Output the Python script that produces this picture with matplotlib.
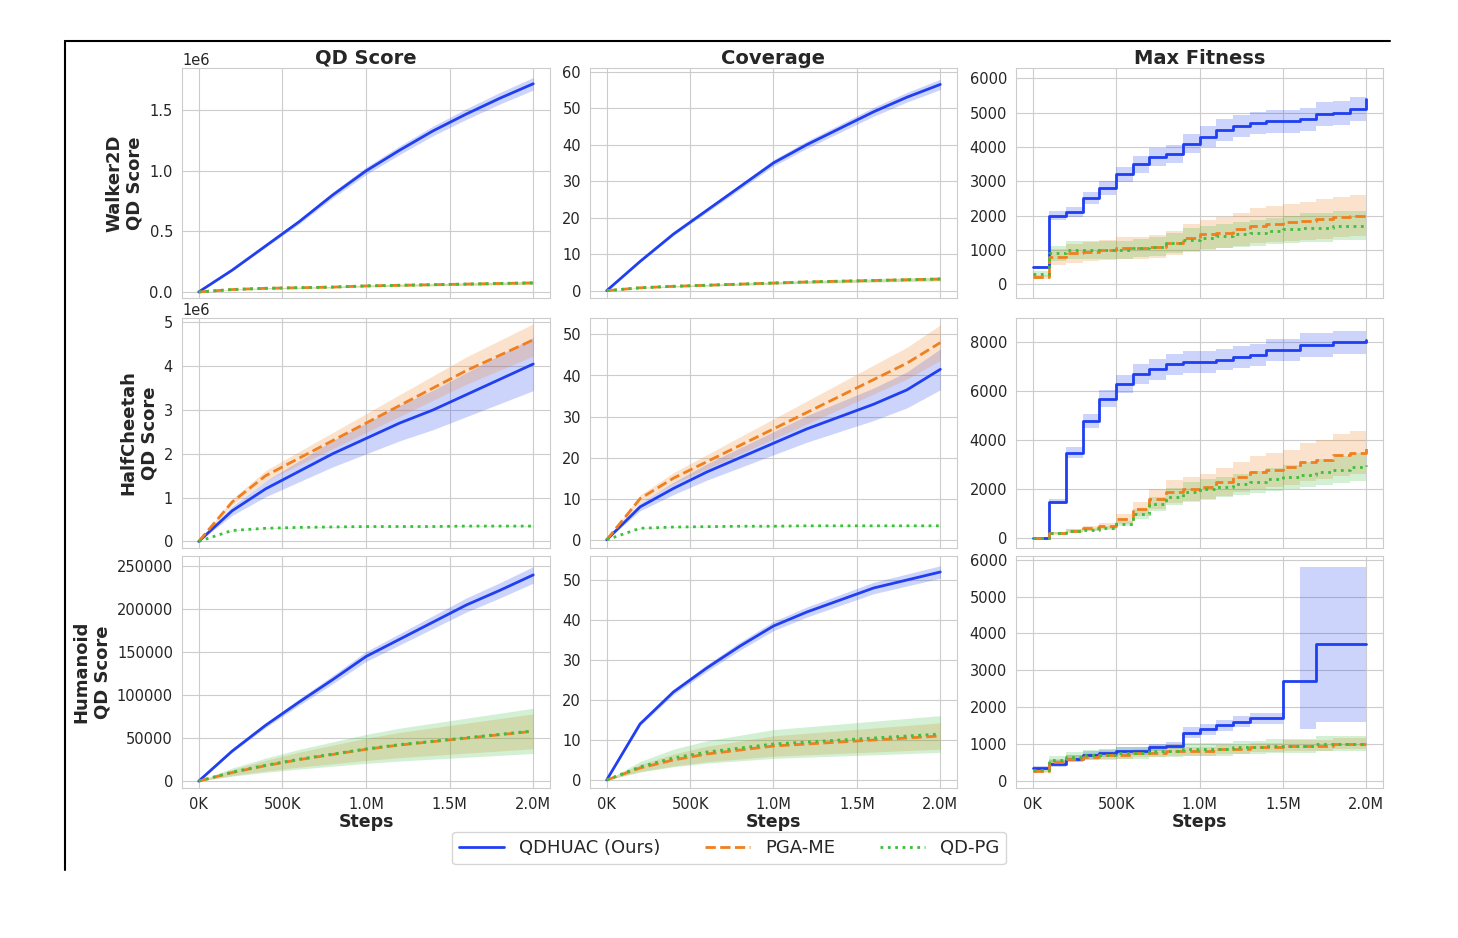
import matplotlib
matplotlib.use("Agg")
import matplotlib.pyplot as plt
import seaborn as sns
import numpy as np
from matplotlib.ticker import FuncFormatter
from matplotlib.lines import Line2D

sns.set_style("whitegrid")
plt.rcParams['font.family'] = ['DejaVu Sans']

x11 = np.linspace(0, 2e6, 11)
x21 = np.linspace(0, 2e6, 21)

w_qd = {"QDHUAC": [0,0.18,0.38,0.58,0.8,1.0,1.17,1.33,1.47,1.6,1.72],
        "PGA": [0,0.02,0.03,0.035,0.04,0.05,0.055,0.06,0.065,0.07,0.075],
        "QDPG": [0,0.02,0.03,0.035,0.04,0.05,0.055,0.06,0.065,0.07,0.075]}
w_cov = {"QDHUAC": [0,8,15.5,22,28.5,35,40,44.5,49,53,56.5],
         "PGA": [0,0.8,1.2,1.5,1.8,2.1,2.4,2.6,2.8,3,3.2],
         "QDPG": [0,0.8,1.2,1.5,1.8,2.1,2.4,2.6,2.8,3,3.2]}
w_max = {"QDHUAC": [500,2000,2100,2500,2800,3200,3500,3700,3800,4100,4300,4500,4600,4700,4750,4750,4800,4950,5000,5100,5400],
         "PGA": [200,800,900,950,1000,1050,1050,1100,1200,1350,1450,1500,1600,1700,1750,1800,1850,1900,1950,2000,2000],
         "QDPG": [300,900,1000,1000,1000,1000,1050,1100,1200,1300,1350,1400,1450,1500,1550,1600,1650,1650,1700,1700,1700]}
h_qd = {"QDHUAC": [0,0.7,1.2,1.6,2.0,2.35,2.7,3.0,3.35,3.7,4.05],
        "PGA": [0,0.9,1.5,1.9,2.3,2.7,3.1,3.5,3.9,4.25,4.6],
        "QDPG": [0,0.25,0.3,0.32,0.33,0.34,0.34,0.34,0.35,0.35,0.35]}
h_cov = {"QDHUAC": [0,8,12.5,16.5,20,23.5,27,30,33,36.5,41.5],
         "PGA": [0,10,15,19,23,27,31,35,39,43,48],
         "QDPG": [0,2.8,3.1,3.2,3.3,3.3,3.4,3.4,3.4,3.4,3.4]}
h_max = {"QDHUAC": [0,1500,3500,4800,5700,6300,6700,6900,7100,7200,7200,7300,7400,7500,7700,7700,7900,7900,8000,8000,8100],
         "PGA": [0,200,300,400,500,800,1200,1600,1900,2000,2100,2300,2500,2700,2800,2900,3100,3200,3400,3500,3700],
         "QDPG": [0,200,300,350,400,600,1000,1400,1700,1900,2000,2100,2200,2300,2400,2500,2600,2700,2800,2900,3000]}
u_qd = {"QDHUAC": [0,35000,65000,92000,118000,145000,165000,185000,205000,222000,240000],
        "PGA": [0,10000,18000,25000,31000,37000,42000,46000,50000,54000,58000],
        "QDPG": [0,10500,18500,25500,31500,37500,42500,46500,50500,54500,58500]}
u_cov = {"QDHUAC": [0,14,22,28,33.5,38.5,42,45,48,50,52],
         "PGA": [0,3,5,6.5,7.5,8.5,9,9.5,10,10.5,11],
         "QDPG": [0,3.3,5.5,7,8,9,9.5,10,10.5,11,11.5]}
u_max = {"QDHUAC": [350,450,600,700,750,800,800,900,950,1300,1400,1500,1600,1700,1700,2700,2700,3700,3700,3700,3700],
         "PGA": [250,500,600,650,700,700,750,750,800,800,800,850,850,900,900,950,950,950,1000,1000,1000],
         "QDPG": [300,550,650,700,700,750,750,800,800,850,850,850,900,900,950,950,950,1000,1000,1000,1000]}
u_max_hi = [400,550,700,800,850,900,900,1000,1050,1450,1550,1650,1750,1850,1850,2700,5800,5800,5800,5800,5800]
u_max_lo = [300,380,500,600,650,700,700,800,850,1150,1250,1350,1450,1550,1550,2700,1400,1600,1600,1600,1600]

colors = {"QDHUAC": "#1f3ff0", "PGA": "#f07f1f", "QDPG": "#3cbf3c"}
styles = {"QDHUAC": "-", "PGA": "--", "QDPG": ":"}
labels = {"QDHUAC": "QDHUAC (Ours)", "PGA": "PGA-ME", "QDPG": "QD-PG"}

fig = plt.figure(figsize=(14.58, 9.38), dpi=100)
W, H = 1458, 938
cols = [(182, 550), (590, 957), (1016, 1383)]
rows = [(68, 298), (318, 548), (556, 788)]
axes = [[None]*3 for _ in range(3)]
for i, (t, b) in enumerate(rows):
    for j, (l, r) in enumerate(cols):
        axes[i][j] = fig.add_axes([l/W, 1-b/H, (r-l)/W, (b-t)/H])

data = [[w_qd, w_cov, w_max], [h_qd, h_cov, h_max], [u_qd, u_cov, u_max]]
rel = [[{"QDHUAC":0.03,"PGA":0.15,"QDPG":0.15},{"QDHUAC":0.025,"PGA":0.15,"QDPG":0.15},{"QDHUAC":0.07,"PGA":0.3,"QDPG":0.25}],
       [{"QDHUAC":0.15,"PGA":0.08,"QDPG":0.03},{"QDHUAC":0.12,"PGA":0.09,"QDPG":0.03},{"QDHUAC":0.06,"PGA":0.25,"QDPG":0.2}],
       [{"QDHUAC":0.04,"PGA":0.35,"QDPG":0.45},{"QDHUAC":0.03,"PGA":0.3,"QDPG":0.4},{"QDHUAC":0.1,"PGA":0.15,"QDPG":0.2}]]
scale = [[1e6, 1, 1], [1e6, 1, 1], [1, 1, 1]]

for i in range(3):
    for j in range(3):
        ax = axes[i][j]
        for k in ["QDHUAC", "PGA", "QDPG"]:
            v = np.array(data[i][j][k], float) * scale[i][j]
            xs = x21 if j == 2 else x11
            ds = "steps-post" if j == 2 else "default"
            step = "post" if j == 2 else None
            if i == 2 and j == 2 and k == "QDHUAC":
                lo, hi = np.array(u_max_lo), np.array(u_max_hi)
            else:
                d = v * rel[i][j][k]
                lo, hi = v - d, v + d
            ax.fill_between(xs, lo, hi, color=colors[k], alpha=0.22, lw=0, step=step)
            ax.plot(xs, v, color=colors[k], ls=styles[k], lw=2, drawstyle=ds)
        ax.set_xlim(-1e5, 2.1e6)
        ax.set_xticks([0, 5e5, 1e6, 1.5e6, 2e6])
        if i == 2:
            ax.set_xticklabels(["0K", "500K", "1.0M", "1.5M", "2.0M"])
            ax.set_xlabel("Steps", fontsize=12.5, fontweight="bold", labelpad=1)
        else:
            ax.set_xticklabels([])
        ax.tick_params(labelsize=10.5, pad=3)
        for s in ax.spines.values():
            s.set_color("#cccccc")

axes[0][0].set_ylim(-0.05e6, 1.85e6); axes[0][0].set_yticks([0, 0.5e6, 1e6, 1.5e6])
axes[0][1].set_ylim(-2, 61); axes[0][1].set_yticks(range(0, 61, 10))
axes[0][2].set_ylim(-400, 6300); axes[0][2].set_yticks(range(0, 6001, 1000))
axes[1][0].set_ylim(-0.15e6, 5.1e6); axes[1][0].set_yticks(np.arange(0, 5.1e6, 1e6))
axes[1][1].set_ylim(-2, 54); axes[1][1].set_yticks(range(0, 51, 10))
axes[1][2].set_ylim(-400, 9000); axes[1][2].set_yticks(range(0, 8001, 2000))
axes[2][0].set_ylim(-8000, 262000); axes[2][0].set_yticks(range(0, 250001, 50000))
axes[2][1].set_ylim(-2, 56); axes[2][1].set_yticks(range(0, 51, 10))
axes[2][2].set_ylim(-200, 6100); axes[2][2].set_yticks(range(0, 6001, 1000))

axes[0][0].yaxis.set_major_formatter(FuncFormatter(lambda v, p: f"{v/1e6:.1f}"))
axes[1][0].yaxis.set_major_formatter(FuncFormatter(lambda v, p: f"{v/1e6:.0f}"))
for i in range(2):
    axes[i][0].text(0.0, 1.0, "1e6", transform=axes[i][0].transAxes, fontsize=10.5, va="bottom")

for j, t in enumerate(["QD Score", "Coverage", "Max Fitness"]):
    axes[0][j].set_title(t, fontsize=14, fontweight="bold", pad=1)
for i, t in enumerate(["Walker2D\nQD Score", "HalfCheetah\nQD Score", "Humanoid\nQD Score"]):
    axes[i][0].set_ylabel(t, fontsize=13, fontweight="bold", labelpad=4)

handles = [Line2D([], [], color=colors[k], ls=styles[k], lw=2) for k in colors]
fig.legend(handles, [labels[k] for k in colors], loc="center", ncol=3,
           bbox_to_anchor=(729/W, 1-848/H), fontsize=13, frameon=True,
           handlelength=2.5, columnspacing=2.5)

fig.add_artist(Line2D([65/W, 1390/W], [1-41/H, 1-41/H], color="black", lw=1.5))
fig.add_artist(Line2D([65/W, 65/W], [1-41/H, 1-870/H], color="black", lw=1.5))

fig.savefig("out.png", dpi=100)
